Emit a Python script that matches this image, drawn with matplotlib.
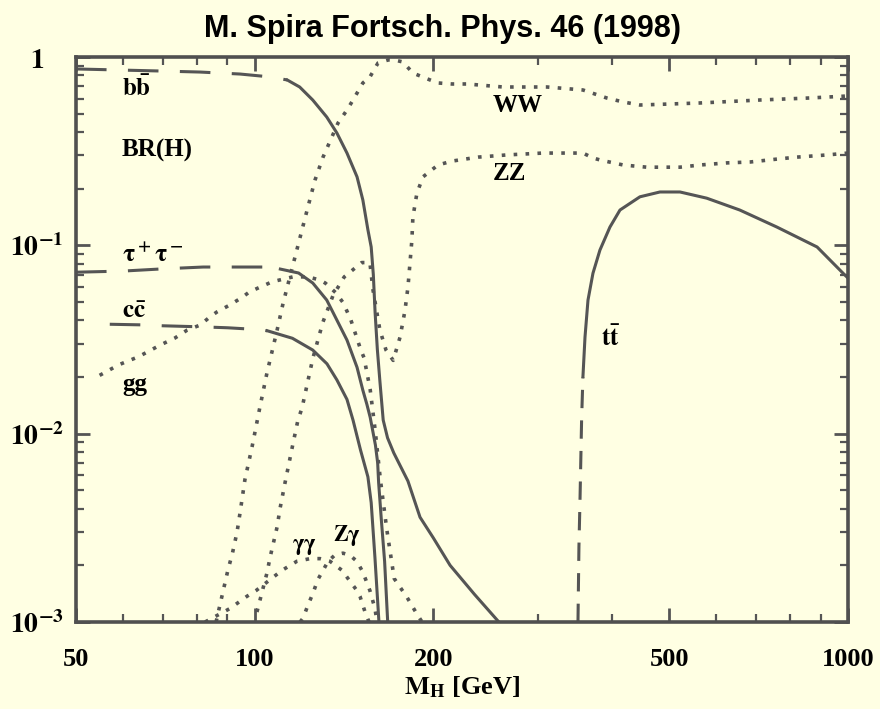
import matplotlib
matplotlib.use("Agg")
import matplotlib.pyplot as plt
import numpy as np

plt.rcParams['mathtext.fontset'] = 'stix'

# ---------------- data ----------------
bb_M = [50, 60, 70, 80.9, 94.5, 106.6, 113.5, 119.1, 125.3, 132.3, 137.6, 143.1, 148.8, 152.2,
        155.2, 157.2, 158.5, 159.6, 161.0, 162.6, 164.7, 167.5, 171.6, 181.3, 190.0, 200.0,
        213.5, 234.8, 258.0]
bb_BR = [0.864, 0.852, 0.842, 0.832, 0.812, 0.783, 0.755, 0.693, 0.591, 0.480, 0.395, 0.309,
         0.231, 0.174, 0.121, 0.098, 0.070, 0.044, 0.028, 0.019, 0.0118, 0.0095, 0.0079,
         0.0056, 0.0036, 0.0028, 0.0020, 0.0014, 0.0010]

tau_M = [50, 60, 70, 81.9, 103.3, 110.5, 118.6, 125.3, 132.3, 137.6, 143.1, 148.8, 152.2,
         154.6, 156.6, 159.8, 161.2, 161.8, 163.5, 165.6, 167.6]
tau_BR = [0.072, 0.073, 0.075, 0.0767, 0.0767, 0.0748, 0.0713, 0.0631, 0.0512, 0.0401, 0.0314,
          0.0225, 0.0170, 0.0143, 0.0122, 0.0087, 0.0070, 0.0055, 0.0035, 0.0021, 0.0010]

cc_M = [57, 65, 70, 81.7, 90, 100, 105, 115.8, 125.3, 132.4, 137.6, 143.1, 146.5, 150.8,
        155.2, 157.2, 159.5, 162.0]
cc_BR = [0.0381, 0.0378, 0.0374, 0.0369, 0.0365, 0.0358, 0.0352, 0.0321, 0.0278, 0.0235,
         0.0193, 0.0152, 0.0118, 0.0082, 0.0059, 0.0043, 0.0022, 0.0010]

gg_M = [54.8, 59.0, 63.7, 69.4, 73.4, 77.0, 80.9, 84.1, 86.4, 90.8, 95.5, 98.0, 107.1, 116,
        123, 128.9, 131.6, 137.2, 141.1, 145.3, 151.0, 152.9, 156.6, 159.6, 162.9, 167.0,
        171.9, 180.7, 187.8, 191.5]
gg_BR = [0.0204, 0.0232, 0.0256, 0.0296, 0.0322, 0.0355, 0.0377, 0.0417, 0.0443, 0.0482,
         0.0532, 0.0566, 0.0641, 0.068, 0.068, 0.0654, 0.0630, 0.0558, 0.0494, 0.0401, 0.0278,
         0.0253, 0.0171, 0.0105, 0.0057, 0.0031, 0.0017, 0.00135, 0.0011, 0.0010]

WW_M = [86.1, 90.2, 91.7, 93.4, 94.5, 96.3, 99.0, 102.1, 104.9, 109.1, 111.7, 120.2, 122.6,
        126.4, 130.4, 138.2, 143.1, 146.5, 152.2, 156.4, 161.4, 168, 173, 177.8, 184.8, 197.6,
        203.7, 215, 228, 262, 311, 357.6, 392, 418, 446, 563, 710, 863, 1000]
WW_BR = [0.0010, 0.0019, 0.0023, 0.0030, 0.0038, 0.0057, 0.0085, 0.0139, 0.0210, 0.0354,
         0.0494, 0.121, 0.154, 0.222, 0.294, 0.446, 0.523, 0.591, 0.728, 0.783, 0.929, 0.965,
         0.96, 0.941, 0.822, 0.755, 0.728, 0.719, 0.719, 0.693, 0.693, 0.668, 0.606, 0.577,
         0.556, 0.570, 0.591, 0.606, 0.621]

ZZ_M = [100.9, 104.9, 106.2, 109.1, 110.4, 112.5, 116.1, 118.3, 120.2, 125.3, 130.3, 135.5,
        141.6, 151.5, 156.4, 158.3, 162.6, 166.5, 171.2, 175.8, 179.2, 181.3, 182.7, 184.1,
        184.8, 187.7, 192.2, 203.7, 215, 238, 266, 306, 357.6, 371.6, 382, 418, 458, 521, 563,
        625, 684, 759, 820, 922, 1000]
ZZ_BR = [0.00113, 0.00182, 0.00221, 0.00319, 0.00403, 0.00547, 0.00891, 0.0118, 0.0137, 0.025,
         0.039, 0.054, 0.068, 0.081, 0.081, 0.058, 0.0355, 0.0278, 0.0245, 0.0325, 0.045, 0.060,
         0.080, 0.107, 0.141, 0.189, 0.231, 0.267, 0.280, 0.294, 0.302, 0.309, 0.309, 0.291,
         0.284, 0.267, 0.260, 0.260, 0.267, 0.274, 0.277, 0.287, 0.294, 0.302, 0.309]

tt_M = [350.7, 352.0, 353.5, 355.7, 357.5, 360.4, 364.6, 371.7, 381.9, 397, 412.8, 446, 482,
        521, 578, 657, 759, 887, 981, 1000]
tt_BR = [0.0010, 0.0025, 0.0045, 0.012, 0.020, 0.0326, 0.0512, 0.0711, 0.0944, 0.125, 0.154,
         0.181, 0.192, 0.192, 0.178, 0.154, 0.125, 0.098, 0.0711, 0.067]

gamgam_M = [82.5, 90.9, 97.1, 100.6, 111.2, 117.8, 124.0, 128.9, 134.0, 140.4, 143.1, 148.7,
            150.5, 153.5, 155.9]
gamgam_BR = [0.0010, 0.00118, 0.00137, 0.00147, 0.00188, 0.00210, 0.00217, 0.00217, 0.00210,
             0.00188, 0.00173, 0.00147, 0.00137, 0.00113, 0.0010]

Zgam_M = [119.3, 120.7, 123.0, 125.4, 127.8, 130.4, 133.0, 136.6, 140.9, 144.8, 148.7, 152.2,
          156.4, 159.5, 160.8]
Zgam_BR = [0.0010, 0.00105, 0.00123, 0.00142, 0.00168, 0.00188, 0.00210, 0.00227, 0.00232,
           0.00226, 0.00210, 0.00184, 0.00147, 0.00118, 0.0010]

x_ticks = [50, 100, 200, 500, 1000]
x_ticklabels = ['50', '100', '200', '500', '1000']
y_ticks = [1e-3, 1e-2, 1e-1, 1]
y_ticklabels = [r'$\mathbf{10^{-3}}$', r'$\mathbf{10^{-2}}$', r'$\mathbf{10^{-1}}$', r'$\mathbf{1}$']

# ---------------- figure ----------------
BG = '#FFFFE3'
LC = '#555555'
W, H = 880, 709
fig = plt.figure(figsize=(W / 100, H / 100), dpi=100, facecolor=BG)
ax = fig.add_axes([76 / W, 1 - 622 / H, 772 / W, 565 / H], facecolor=BG)
ax.set_xscale('log')
ax.set_yscale('log')
ax.set_xlim(50, 1000)
ax.set_ylim(1e-3, 1)

DASH = dict(color=LC, lw=2.2, linestyle=(0, (10, 7)), solid_capstyle='butt')
SOLID = dict(color=LC, lw=2.2, linestyle='-')
DOT = dict(color=LC, lw=2.6, linestyle=(0, (1, 2.3)))


def split_plot(M, BR, msplit, first, second):
    M = np.asarray(M, float)
    BR = np.asarray(BR, float)
    i = int(np.searchsorted(M, msplit))
    ax.plot(M[:i + 1], BR[:i + 1], **first)
    ax.plot(M[i:], BR[i:], **second)


split_plot(bb_M, bb_BR, 113.5, DASH, SOLID)
split_plot(tau_M, tau_BR, 110.5, DASH, SOLID)
split_plot(cc_M, cc_BR, 105, DASH, SOLID)
split_plot(tt_M, tt_BR, 357.5, dict(color=LC, lw=2.2, linestyle=(0, (6, 4))), SOLID)
ax.plot(gg_M, gg_BR, **DOT)
ax.plot(WW_M, WW_BR, **DOT)
ax.plot(ZZ_M, ZZ_BR, **DOT)
ax.plot(gamgam_M, gamgam_BR, **DOT)
ax.plot(Zgam_M, Zgam_BR, **DOT)

# ticks
ax.set_xticks(x_ticks)
ax.set_xticklabels(x_ticklabels, fontfamily='Liberation Serif', fontweight='bold', fontsize=19)
ax.set_xticks([60, 70, 80, 90, 300, 400, 600, 700, 800, 900], minor=True)
ax.xaxis.set_minor_formatter(matplotlib.ticker.NullFormatter())
ax.set_yticks(y_ticks)
ax.set_yticklabels(y_ticklabels, fontsize=20)
ax.yaxis.set_minor_locator(matplotlib.ticker.LogLocator(base=10, subs=np.arange(2, 10)))
ax.yaxis.set_minor_formatter(matplotlib.ticker.NullFormatter())
ax.tick_params(which='both', direction='in', top=True, right=True, colors='#555555')
ax.tick_params(which='major', length=10, width=2, labelcolor='black')
ax.tick_params(which='minor', length=6, width=1.6)
ax.tick_params(axis='x', which='major', pad=19)
ax.tick_params(axis='y', which='major', pad=28)
for lab in ax.get_yticklabels():
    lab.set_ha('center')
for s in ax.spines.values():
    s.set_linewidth(2.6)
    s.set_color('#505050')

ax.set_xlabel(r'$\mathbf{M_H}$' + ' [GeV]', fontsize=19, fontfamily='Liberation Serif',
              fontweight='bold', labelpad=2)

fig.text(442 / W, 1 - 29 / H, 'M. Spira Fortsch. Phys. 46 (1998)', ha='center', va='center',
         fontsize=22, fontfamily='Liberation Sans', fontweight='bold')

# curve labels (pixel positions -> figure fraction)
def lab(px, py, s, size=18):
    fig.text(px / W, 1 - py / H, s, ha='left', va='center', fontsize=size,
             fontfamily='Liberation Serif', fontweight='bold')

lab(122, 88, r'$\mathbf{b\bar{b}}$')
lab(122, 150, 'BR(H)')
lab(122, 255, r'$\mathbf{\tau^+\tau^-}$')
lab(122, 311, r'$\mathbf{c\bar{c}}$')
lab(122, 384, 'gg')
lab(292, 547, r'$\mathbf{\gamma\gamma}$', 16)
lab(333, 535, r'$\mathbf{Z\gamma}$', 16)
lab(493, 105, 'WW')
lab(493, 174, 'ZZ')
lab(601, 338, r'$\mathbf{t\bar{t}}$')

fig.savefig('out.png', dpi=100, facecolor=BG)
